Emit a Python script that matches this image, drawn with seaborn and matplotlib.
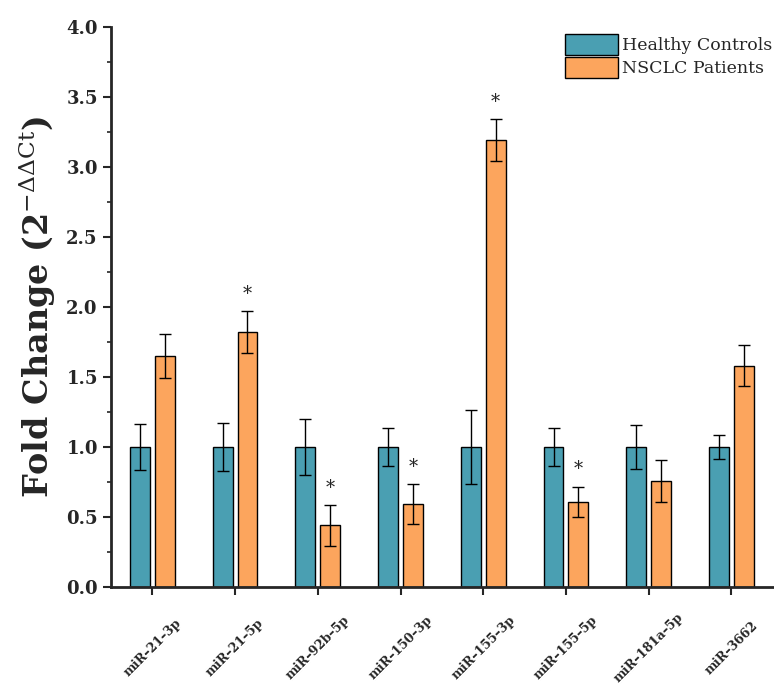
import numpy as np
import pandas as pd
import matplotlib
matplotlib.use("Agg")
import matplotlib.pyplot as plt
from matplotlib.ticker import MultipleLocator
import seaborn as sns

# --- data ---
mirnas = ["miR-21-3p", "miR-21-5p", "miR-92b-5p", "miR-150-3p",
          "miR-155-3p", "miR-155-5p", "miR-181a-5p", "miR-3662"]
tick_labels = ["miR–21–3p", "miR–21–5p", "miR–92b–5p", "miR–150–3p",
               "miR–155–3p", "miR–155–5p", "miR–181a–5p", "miR–3662"]
groups = ["Healthy Controls", "NSCLC Patients"]
control_fc = [1.0, 1.0, 1.0, 1.0, 1.0, 1.0, 1.0, 1.0]
control_err = [0.165, 0.17, 0.20, 0.135, 0.265, 0.135, 0.16, 0.085]
patient_fc = [1.65, 1.82, 0.44, 0.59, 3.19, 0.61, 0.76, 1.58]
patient_err = [0.16, 0.15, 0.145, 0.143, 0.15, 0.107, 0.15, 0.146]
significant = [False, True, True, True, True, True, False, False]

colors = {"Healthy Controls": "#4a9fb2", "NSCLC Patients": "#fca55d"}

df = pd.DataFrame({
    "miRNA": mirnas * 2,
    "Group": [groups[0]] * len(mirnas) + [groups[1]] * len(mirnas),
    "Fold": control_fc + patient_fc,
    "Err": control_err + patient_err,
})

sns.set_style("ticks")
plt.rcParams["font.family"] = ["DejaVu Serif"]
plt.rcParams["mathtext.fontset"] = "dejavuserif"

fig = plt.figure(figsize=(7.74, 6.84), dpi=100)
ax = fig.add_axes([0.1434, 0.1418, 0.855, 0.8187])

sns.barplot(data=df, x="miRNA", y="Fold", hue="Group", order=mirnas, hue_order=groups,
            palette=colors, saturation=1, width=0.6, gap=0.2, errorbar=None,
            edgecolor="black", linewidth=1.0, ax=ax)

# error bars + significance stars at the bar centres seaborn used
for cont, errs, vals in zip(ax.containers, [control_err, patient_err], [control_fc, patient_fc]):
    xs = [p.get_x() + p.get_width() / 2 for p in cont.patches]
    ax.errorbar(xs, vals, yerr=errs, fmt="none", ecolor="black", elinewidth=1.0,
                capsize=4, capthick=1.0, zorder=5)
xs_p = [p.get_x() + p.get_width() / 2 for p in ax.containers[1].patches]
for x, v, e, sig in zip(xs_p, patient_fc, patient_err, significant):
    if sig:
        ax.text(x, v + e + 0.06, "*", ha="center", va="bottom", fontsize=13)

ax.set_xlim(-0.5, 7.5)
ax.set_ylim(0, 4.0)
ax.set_yticks(np.arange(0, 4.01, 0.5))
ax.yaxis.set_minor_locator(MultipleLocator(0.25))
ax.set_yticklabels([f"{v:.1f}" for v in np.arange(0, 4.01, 0.5)], fontsize=13, fontweight="bold")
ax.set_xticks(range(len(mirnas)))
ax.set_xticklabels(tick_labels, rotation=45, ha="center", va="center", rotation_mode="anchor",
                   fontsize=9, fontweight="bold")
ax.tick_params(axis="both", which="major", direction="out", length=6, width=1.5)
ax.tick_params(axis="y", which="minor", direction="out", length=3, width=1.2)
ax.tick_params(axis="x", pad=38)
ax.set_xlabel("")
ax.set_ylabel(r"Fold Change (2$^{-\Delta\Delta\mathrm{Ct}}$)", fontsize=24, fontweight="bold", labelpad=6)
sns.despine(ax=ax)
for side in ["left", "bottom"]:
    ax.spines[side].set_linewidth(2.0)

ax.legend(loc="upper right", bbox_to_anchor=(1.01, 1.0), frameon=False, fontsize=12.5,
          handlelength=3.05, handleheight=1.5, handletextpad=0.25, labelspacing=0.1,
          borderaxespad=0.0)

fig.savefig("out.png", dpi=100)
